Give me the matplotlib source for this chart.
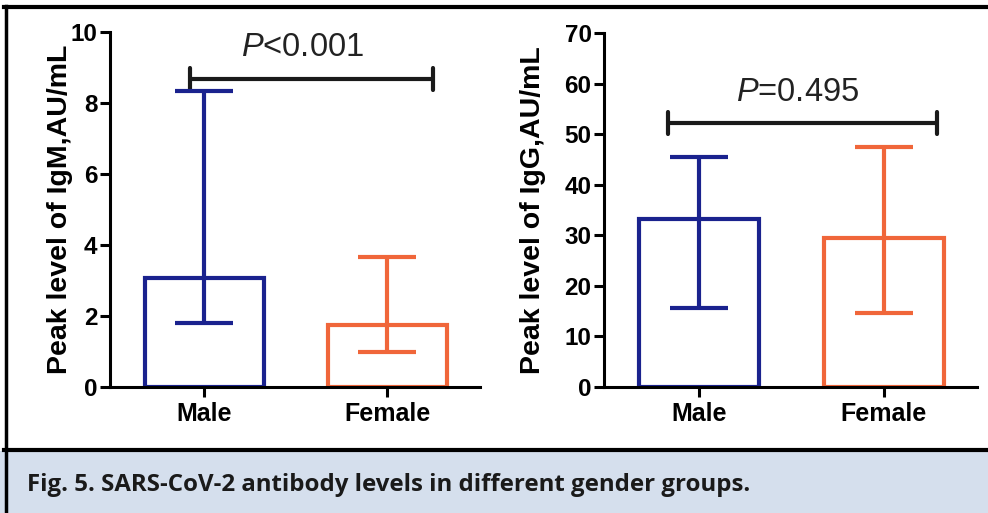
import numpy as np
import matplotlib
matplotlib.use('Agg')
import matplotlib.pyplot as plt
from matplotlib.patches import Rectangle
from matplotlib.lines import Line2D

plt.rcParams['font.family'] = 'Liberation Sans'
plt.rcParams['mathtext.fontset'] = 'custom'
plt.rcParams['mathtext.it'] = 'Liberation Sans:italic'
plt.rcParams['mathtext.rm'] = 'Liberation Sans'

# data
groups = ['Male', 'Female']
igm_peak = [3.07, 1.75]
igm_low = [1.80, 0.99]
igm_high = [8.35, 3.66]
igg_peak = [33.2, 29.4]
igg_low = [15.6, 14.6]
igg_high = [45.5, 47.4]
p_igm = '$\\it{P}$<0.001'
p_igg = '$\\it{P}$=0.495'

colors = ['#1a228e', '#f0663a']
W, H = 988, 513
fig = plt.figure(figsize=(W / 100, H / 100), dpi=100)


def px(l, b, r, t):
    return [l / W, (H - b) / H, (r - l) / W, (b - t) / H]


def panel(ax, peak, low, high, ymax, step, ylabel, label_x, ptxt, sig_y, sig_x, cap, ptxt_y):
    x = np.arange(len(groups))
    ax.bar(x, peak, width=0.65, color='white', edgecolor=colors, linewidth=3, zorder=2)
    for i in range(len(groups)):
        ax.errorbar(x[i], peak[i], yerr=[[peak[i] - low[i]], [high[i] - peak[i]]],
                    color=colors[i], elinewidth=3, capsize=21, capthick=3, zorder=3)
    ax.set_ylim(0, ymax)
    ax.set_xlim(-0.514, 1.505)
    ax.set_yticks(np.arange(0, ymax + step / 2, step))
    ax.set_xticks(x)
    ax.set_xticklabels(groups)
    for s in ['top', 'right']:
        ax.spines[s].set_visible(False)
    for s in ['left', 'bottom']:
        ax.spines[s].set_linewidth(2.2)
    ax.tick_params(axis='both', width=2.2, length=7, direction='out')
    for lab in ax.get_yticklabels():
        lab.set_fontsize(17.5)
        lab.set_fontweight('bold')
    for lab in ax.get_xticklabels():
        lab.set_fontsize(18)
        lab.set_fontweight('bold')
    ax.tick_params(axis='y', pad=2)
    ax.set_ylabel(ylabel, fontsize=20.5, fontweight='bold')
    ax.yaxis.set_label_coords(label_x, 0.5)
    # significance bracket
    ax.plot(sig_x, [sig_y, sig_y], color='#1a1a1a', lw=3, clip_on=False, solid_capstyle='butt')
    for xx in sig_x:
        ax.plot([xx, xx], [sig_y - cap, sig_y + cap], color='#1a1a1a', lw=3,
                clip_on=False, solid_capstyle='round')
    ax.text(0.535, ptxt_y, ptxt, ha='center', va='center', fontsize=23.5, color='#222222')


ax1 = fig.add_axes(px(110, 387, 480, 32))
panel(ax1, igm_peak, igm_low, igm_high, 10, 2, 'Peak level of IgM,AU/mL', -0.100, p_igm,
      8.68, [-0.077, 1.25], 0.31, 9.55)

ax2 = fig.add_axes(px(604, 387, 977, 33))
panel(ax2, igg_peak, igg_low, igg_high, 70, 10, 'Peak level of IgG,AU/mL', -0.155, p_igg,
      52.2, [-0.17, 1.29], 2.2, 58.3)

# frame and caption box
fig.patches.append(Rectangle((0, 0), 1, 62 / H, transform=fig.transFigure,
                             facecolor='#d5dfed', edgecolor='none', zorder=0))
fig.lines.append(Line2D([4 / W, 1], [1 - 7 / H, 1 - 7 / H], transform=fig.transFigure,
                        color='black', lw=3))
fig.lines.append(Line2D([5.5 / W, 5.5 / W], [0, 1 - 5.5 / H], transform=fig.transFigure,
                        color='black', lw=2.5))
fig.lines.append(Line2D([4 / W, 1], [63.5 / H, 63.5 / H], transform=fig.transFigure,
                        color='black', lw=3))
fig.text(27 / W, 1 - 491 / H, 'Fig. 5. SARS-CoV-2 antibody levels in different gender groups.',
         fontsize=17.3, fontweight='bold', color='#1a1a1a', family='Open Sans', va='baseline')

fig.savefig('out.png', dpi=100)
